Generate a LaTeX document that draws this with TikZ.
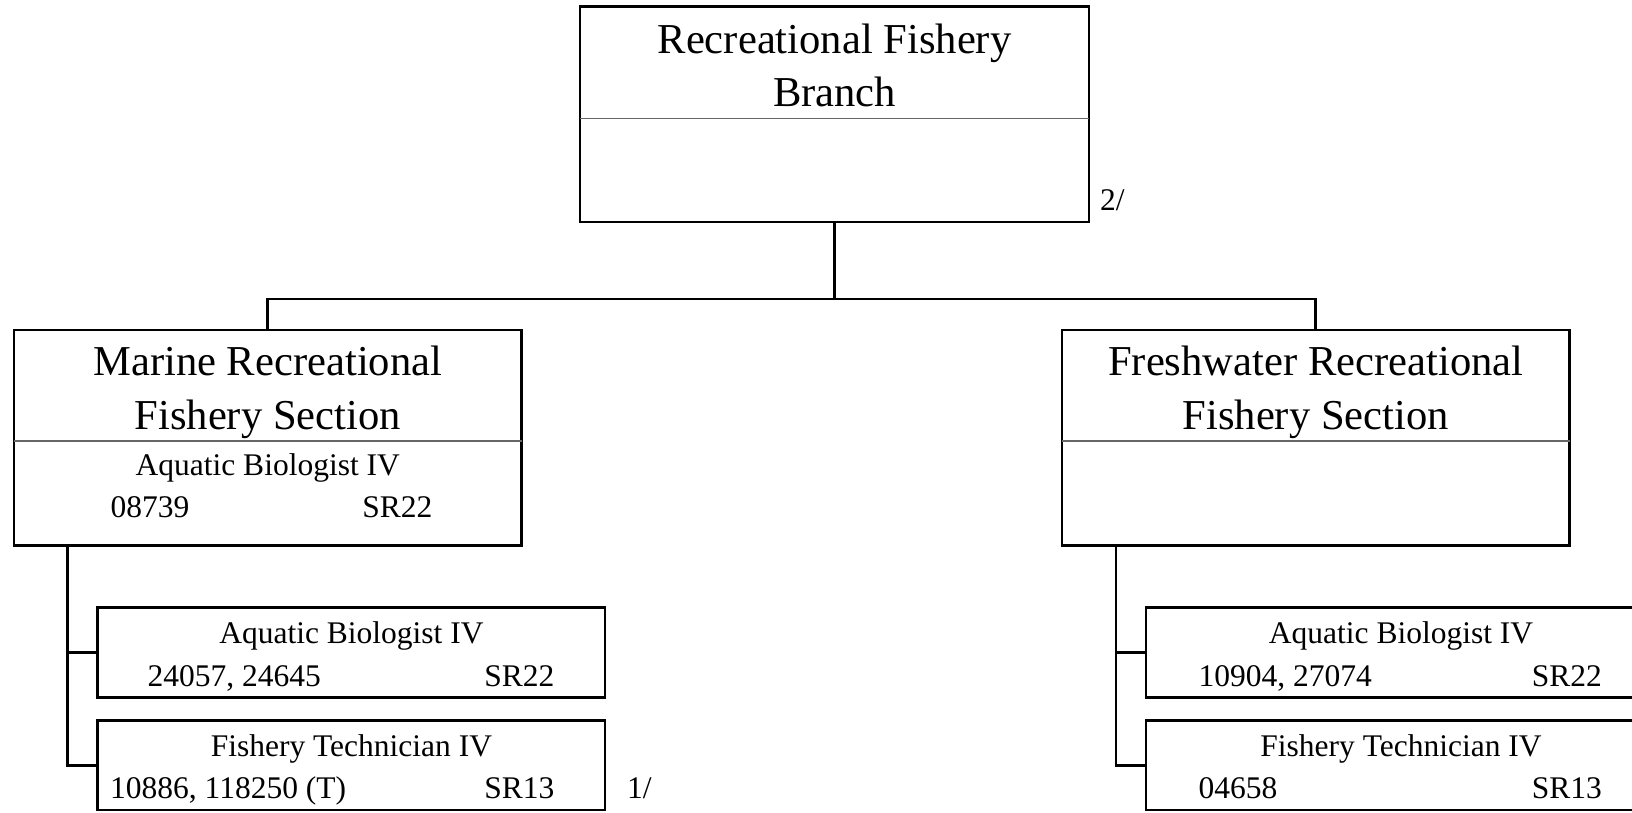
\documentclass[tikz,border=0pt]{standalone}
\usepackage{fontspec}
\setmainfont{Liberation Serif}
\begin{document}
\begin{tikzpicture}[x=1pt,y=-1pt,
  box/.style={draw, rectangle, line width=2.8pt, inner sep=0pt, outer sep=0pt},
  conn/.style={line width=2.8pt},
  rule/.style={line width=1.2pt, draw=black!60},
  bigtxt/.style={font=\fontsize{42.6}{50}\selectfont, inner sep=0pt, anchor=base},
  smalltxt/.style={font=\fontsize{31.5}{37}\selectfont, inner sep=0pt, anchor=base},
  lefttxt/.style={smalltxt, anchor=base west},
  righttxt/.style={smalltxt, anchor=base east}]
\useasboundingbox (0,0) rectangle (1632,812);
\clip (0,0) rectangle (1632,812);

% --- branch ---
\node[box, minimum width=509pt, minimum height=215.5pt] (branch) at (834.5,114.25) {};
\draw[rule] ([yshift=-112pt]branch.north west) -- ([yshift=-112pt]branch.north east);
\node[bigtxt] (branchT1) at (834.5,53.5) {Recreational Fishery};
\node[bigtxt] (branchT2) at (834.5,106) {Branch};
\node[lefttxt] (note2) at (1100,210.5) {2/};

% --- sections ---
\node[box, minimum width=507.5pt, minimum height=215.5pt] (marine) at (267.75,437.75) {};
\draw[rule] ([yshift=-111pt]marine.north west) -- ([yshift=-111pt]marine.north east);
\node[bigtxt] (marineT1) at (267.75,375.5) {Marine Recreational};
\node[bigtxt] (marineT2) at (267.75,429.5) {Fishery Section};
\node[smalltxt] (marineJob) at (267.75,475.5) {Aquatic Biologist IV};
\node[lefttxt] (marineNo) at (110.3,517) {08739};
\node[righttxt] (marineSR) at (432.5,517) {SR22};

\node[box, minimum width=507.5pt, minimum height=215.5pt] (fresh) at (1315.75,437.75) {};
\draw[rule] ([yshift=-111pt]fresh.north west) -- ([yshift=-111pt]fresh.north east);
\node[bigtxt] (freshT1) at (1315.75,375.5) {Freshwater Recreational};
\node[bigtxt] (freshT2) at (1315.75,429.5) {Fishery Section};

% --- marine positions ---
\node[box, minimum width=507.3pt, minimum height=90pt] (mab) at (351.4,652.5) {};
\node[smalltxt] (mabJob) at (351.4,643) {Aquatic Biologist IV};
\node[lefttxt] (mabNo) at (147.5,686) {24057, 24645};
\node[righttxt] (mabSR) at (554.5,686) {SR22};

\node[box, minimum width=507.3pt, minimum height=89.5pt] (mft) at (351.4,765.25) {};
\node[smalltxt] (mftJob) at (351.4,756.5) {Fishery Technician IV};
\node[lefttxt] (mftNo) at (110,798.5) {10886, 118250 (T)};
\node[righttxt] (mftSR) at (554.5,798.5) {SR13};
\node[lefttxt] (note1) at (627,798.5) {1/};

% --- freshwater positions ---
\node[box, minimum width=507.3pt, minimum height=90pt] (fab) at (1399.7,652.5) {};
\node[smalltxt] (fabJob) at (1401,643) {Aquatic Biologist IV};
\node[lefttxt] (fabNo) at (1198.5,686) {10904, 27074};
\node[righttxt] (fabSR) at (1602,686) {SR22};

\node[box, minimum width=507.3pt, minimum height=89.5pt] (fft) at (1399.7,765.25) {};
\node[smalltxt] (fftJob) at (1401,756.5) {Fishery Technician IV};
\node[lefttxt] (fftNo) at (1198.5,798.5) {04658};
\node[righttxt] (fftSR) at (1602,798.5) {SR13};

% --- connectors ---
\coordinate (bus) at (834.5,299);
\draw[conn] (branch.south) -- (branch.south |- bus);
\draw[conn] (marine.north) |- (bus -| fresh.north) -- (fresh.north);

\coordinate (mtrunk) at ([xshift=53.7pt]marine.south west);
\draw[conn] (mtrunk) |- (mab.west);
\draw[conn] (mtrunk) |- (mft.west);

\coordinate (ftrunk) at ([xshift=54pt]fresh.south west);
\draw[conn] (ftrunk) |- (fab.west);
\draw[conn] (ftrunk) |- (fft.west);
\end{tikzpicture}
\end{document}
